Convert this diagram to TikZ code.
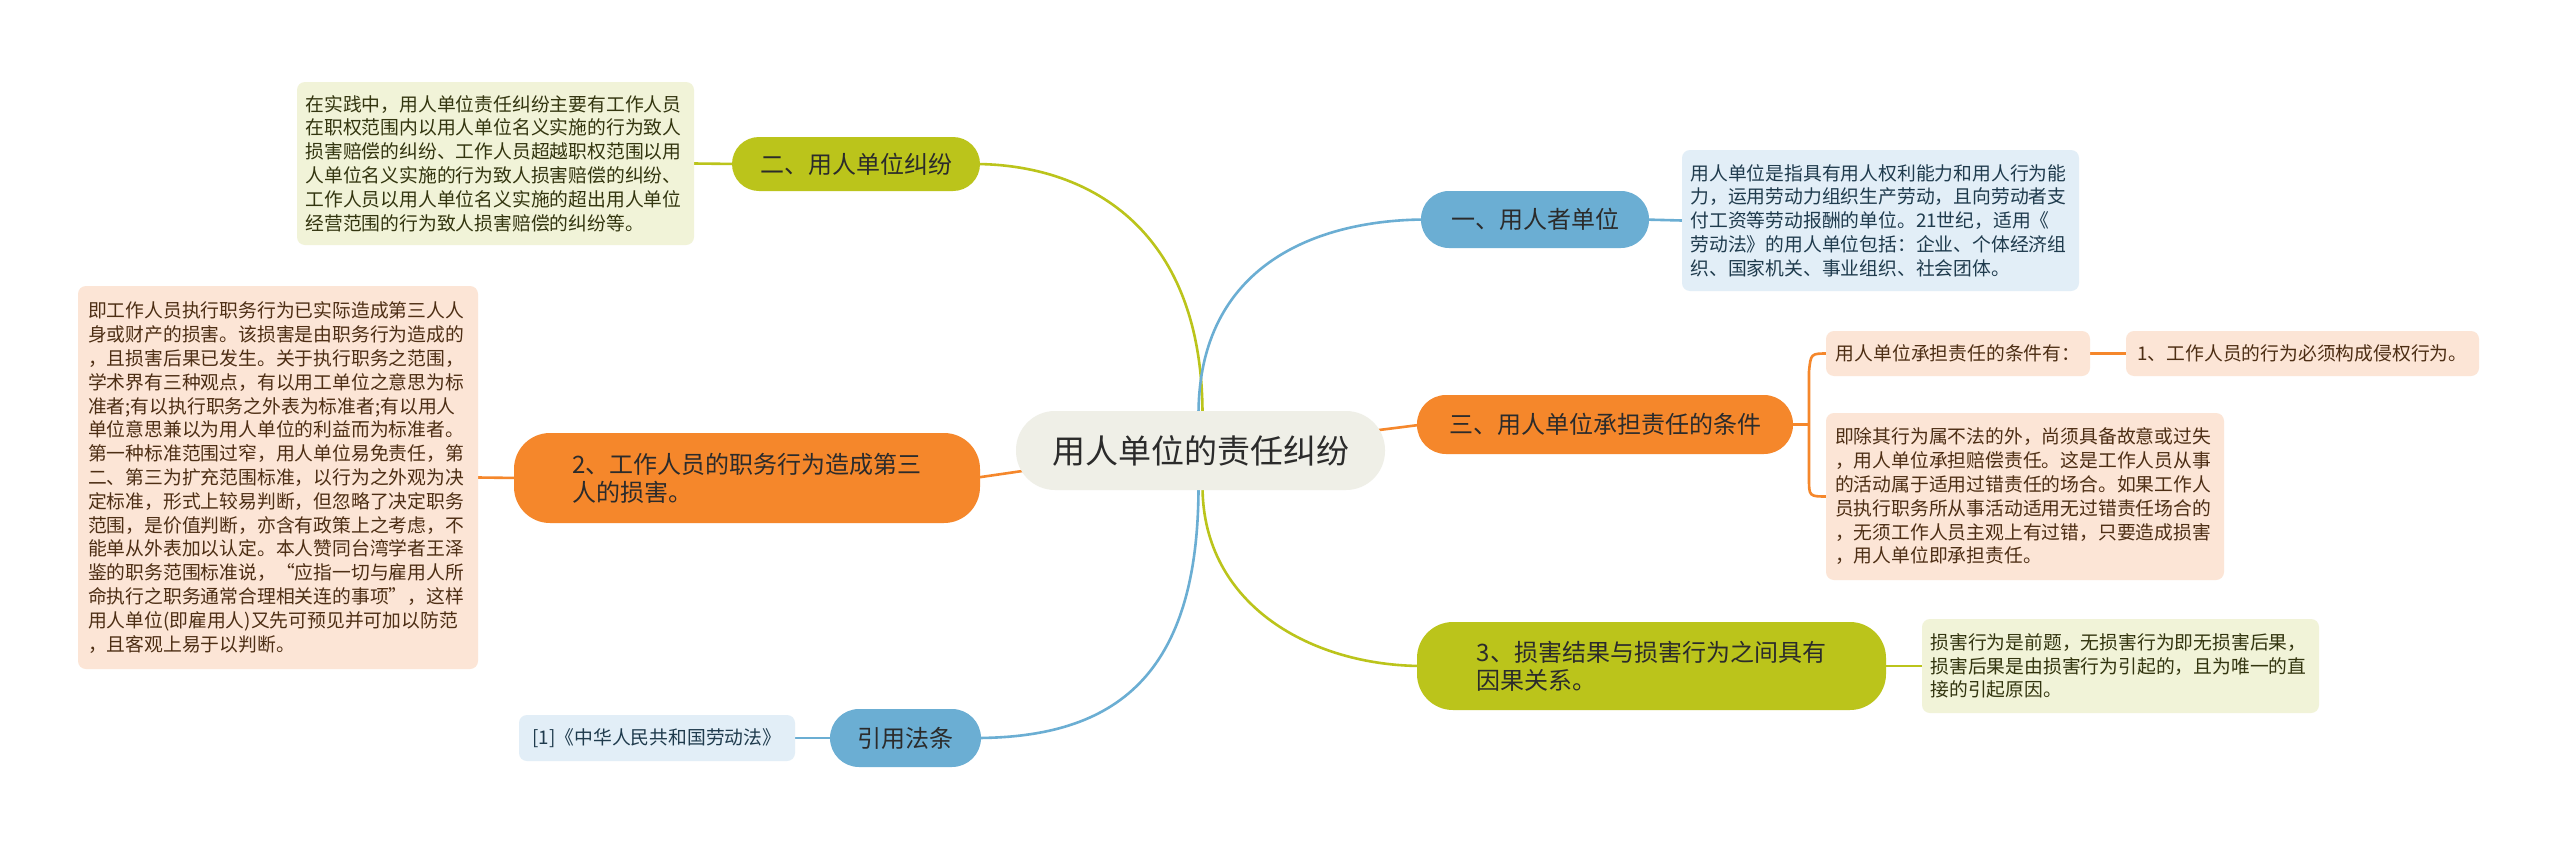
\documentclass[tikz,border=0pt]{standalone}
\usepackage{fontspec}
\setmainfont{Noto Sans CJK SC}
\usetikzlibrary{backgrounds}
\definecolor{cblue}{HTML}{6BAED3}
\definecolor{corange}{HTML}{F5872B}
\definecolor{cgreen}{HTML}{BBC41B}
\definecolor{ccentre}{HTML}{EFEFE7}
\definecolor{lblue}{HTML}{E2EEF7}
\definecolor{lorange}{HTML}{FCE5D6}
\definecolor{lgreen}{HTML}{F1F3D8}
\definecolor{tblue}{HTML}{1F3B4D}
\definecolor{torange}{HTML}{4D2E14}
\definecolor{tgreen}{HTML}{33350F}
\definecolor{tmain}{HTML}{2B2B2B}
\tikzset{
  leafbox/.style={rounded corners=8pt, inner sep=0pt, align=left,
    font=\fontsize{18.8pt}{23.8pt}\selectfont},
  leafblue/.style={leafbox, fill=lblue, text=tblue},
  leaforange/.style={leafbox, fill=lorange, text=torange},
  leafgreen/.style={leafbox, fill=lgreen, text=tgreen},
  mainbox/.style={rounded corners=28pt, inner sep=0pt, align=left,
    text=tmain, font=\fontsize{24pt}{28pt}\selectfont},
  mainblue/.style={mainbox, fill=cblue},
  mainorange/.style={mainbox, fill=corange},
  maingreen/.style={mainbox, fill=cgreen},
  centrebox/.style={rounded corners=39pt, inner sep=0pt, fill=ccentre, text=tmain,
    font=\fontsize{33pt}{40pt}\selectfont},
  linkblue/.style={draw=cblue, line width=2.6pt},
  linkorange/.style={draw=corange, line width=2.6pt},
  linkgreen/.style={draw=cgreen, line width=2.6pt},
}
\begin{document}
\begin{tikzpicture}[x=1pt,y=-1pt]
\useasboundingbox (0,0) rectangle (2560,849);

% centre
\node[centrebox, minimum width=369pt, minimum height=79pt] (c) at (1200.5,450.5) {用人单位的责任纠纷};

% main branches
\node[mainblue, minimum width=228pt, minimum height=57pt] (one) at (1535,219.5) {一、用人者单位};
\node[maingreen, minimum width=248pt, minimum height=54pt, rounded corners=27pt] (two) at (856,164) {二、用人单位纠纷};
\node[mainorange, minimum width=376pt, minimum height=59pt, rounded corners=29pt] (three) at (1605,424.5) {三、用人单位承担责任的条件};
\node[maingreen, minimum width=469pt, minimum height=88pt, rounded corners=36pt] (harm) at (1651.5,666) {3、损害结果与损害行为之间具有\\因果关系。};
\node[mainblue, minimum width=151pt, minimum height=58pt, rounded corners=29pt] (law) at (905.5,738) {引用法条};
\node[mainorange, minimum width=466pt, minimum height=90pt, rounded corners=36pt] (duty) at (747,478) {2、工作人员的职务行为造成第三\\人的损害。};

% leaves
\node[leafblue, minimum width=397pt, minimum height=141pt, text width=380pt] (lone) at (1880.5,220.5) {用人单位是指具有用人权利能力和用人行为能\\力，运用劳动力组织生产劳动，且向劳动者支\\付工资等劳动报酬的单位。21世纪，适用《\\劳动法》的用人单位包括：企业、个体经济组\\织、国家机关、事业组织、社会团体。};

\node[leafgreen, minimum width=397pt, minimum height=163pt, text width=380pt] (ltwo) at (495.5,163.5) {在实践中，用人单位责任纠纷主要有工作人员\\在职权范围内以用人单位名义实施的行为致人\\损害赔偿的纠纷、工作人员超越职权范围以用\\人单位名义实施的行为致人损害赔偿的纠纷、\\工作人员以用人单位名义实施的超出用人单位\\经营范围的行为致人损害赔偿的纠纷等。};

\node[leaforange, minimum width=264pt, minimum height=45pt] (lthreea) at (1958,353.5) {用人单位承担责任的条件有：};
\node[leaforange, minimum width=353pt, minimum height=45pt] (lthreeb) at (2302.5,353.5) {1、工作人员的行为必须构成侵权行为。};
\node[leaforange, minimum width=398pt, minimum height=167pt, text width=380pt] (lthreec) at (2025,496.5) {即除其行为属不法的外，尚须具备故意或过失\\，用人单位承担赔偿责任。这是工作人员从事\\的活动属于适用过错责任的场合。如果工作人\\员执行职务所从事活动适用无过错责任场合的\\，无须工作人员主观上有过错，只要造成损害\\，用人单位即承担责任。};

\node[leafgreen, minimum width=397pt, minimum height=94pt, text width=380pt] (lharm) at (2120.5,666) {损害行为是前题，无损害行为即无损害后果，\\损害后果是由损害行为引起的，且为唯一的直\\接的引起原因。};

\node[leafblue, minimum width=276pt, minimum height=46pt] (llaw) at (657,738) {[1]《中华人民共和国劳动法》};

\node[leaforange, minimum width=400pt, minimum height=383pt, text width=380pt] (lduty) at (278,477.5) {即工作人员执行职务行为已实际造成第三人人\\身或财产的损害。该损害是由职务行为造成的\\，且损害后果已发生。关于执行职务之范围，\\学术界有三种观点，有以用工单位之意思为标\\准者;有以执行职务之外表为标准者;有以用人\\单位意思兼以为用人单位的利益而为标准者。\\第一种标准范围过窄，用人单位易免责任，第\\二、第三为扩充范围标准，以行为之外观为决\\定标准，形式上较易判断，但忽略了决定职务\\范围，是价值判断，亦含有政策上之考虑，不\\能单从外表加以认定。本人赞同台湾学者王泽\\鉴的职务范围标准说，“应指一切与雇用人所\\命执行之职务通常合理相关连的事项”，这样\\用人单位(即雇用人)又先可预见并可加以防范\\，且客观上易于以判断。};

\coordinate (brk) at (1809,424.5);

\begin{scope}[on background layer]
  \fill[white] (0,0) rectangle (2560,849);
  % centre to branches
  \draw[linkgreen] ([xshift=2pt,yshift=-4pt]c.north) .. controls +(0,-190) and +(110,0) .. ([xshift=-6pt]two.east);
  \draw[linkblue] ([xshift=-2pt,yshift=-4pt]c.north) .. controls +(0,-150) and +(-110,0) .. ([xshift=6pt]one.west);
  \draw[linkorange] ([xshift=-10pt,yshift=20pt]c.east) -- ([xshift=6pt]three.west);
  \draw[linkorange] ([xshift=10pt,yshift=-20pt]c.west) -- ([xshift=-6pt]duty.east);
  \draw[linkgreen] ([xshift=2pt,yshift=4pt]c.south) .. controls +(0,120) and +(-110,0) .. ([xshift=6pt]harm.west);
  \draw[linkblue] ([xshift=-2pt,yshift=4pt]c.south) .. controls +(0,190) and +(140,0) .. ([xshift=-6pt]law.east);
  % branches to leaves
  \draw[linkblue] ([xshift=-6pt]one.east) -- (lone.west);
  \draw[linkgreen] ([xshift=6pt]two.west) -- (ltwo.east);
  \draw[linkblue] ([xshift=6pt]law.west) -- (llaw.east);
  \draw[linkorange] ([xshift=6pt]duty.west) -- (lduty.east);
  \draw[linkgreen] ([xshift=-6pt]harm.east) -- (lharm.west);
  \draw[linkorange] (lthreea.east) -- (lthreeb.west);
  \draw[linkorange] ([xshift=-6pt]three.east) -- (brk);
  \draw[linkorange] ([xshift=2pt]lthreea.west) .. controls +(-17,0) .. ([yshift=-18pt]brk |- lthreea.west)
     -- ([yshift=18pt]brk |- lthreec.west) .. controls +(0,18) .. ([xshift=2pt]lthreec.west);
\end{scope}
\end{tikzpicture}
\end{document}
